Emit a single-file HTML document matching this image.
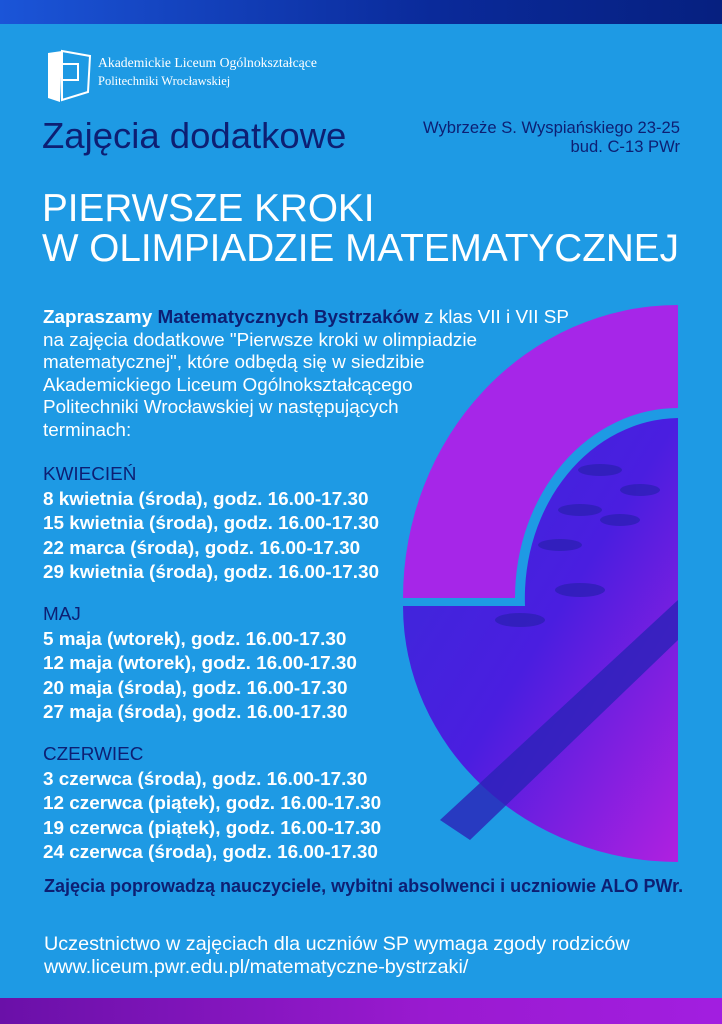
<!DOCTYPE html>
<html><head><meta charset="utf-8"><style>
body{margin:0;width:722px;height:1024px;overflow:hidden;background:#1e9ae4;font-family:"Liberation Sans",Arial,sans-serif;position:relative}
.t{position:absolute;white-space:nowrap;line-height:1}
.w{color:#fff}.d{color:#0d1f73}
.b{font-weight:bold}
</style></head><body>
<div style="position:absolute;left:0;top:0;width:722px;height:24px;background:linear-gradient(90deg,#1b55d8,#0a2a9a 60%,#062080)"></div>
<div style="position:absolute;left:0;top:998px;width:722px;height:26px;background:linear-gradient(90deg,#6a10a8,#9a1ad0 60%,#a21ee0)"></div>
<svg style="position:absolute;left:0;top:0" width="722" height="1024">
<defs><linearGradient id="p" x1="0" y1="0" x2="1" y2="1"><stop offset="0" stop-color="#3a2ad8"/><stop offset="0.5" stop-color="#4a1ee0"/><stop offset="1" stop-color="#b020e0"/></linearGradient></defs>
<path d="M48,53 L62,51 L60,102 L48,98 Z" fill="#fff"/>
<path d="M62,51 L90,56 L88,92 L62,100 Z" fill="none" stroke="#fff" stroke-width="2"/>
<rect x="62" y="64" width="16" height="16" fill="none" stroke="#fff" stroke-width="2"/>
<path d="M678,305 A275,293 0 0 0 403,598 L515,598 A163,190 0 0 1 678,408 Z" fill="#a626e8"/>
<path d="M678,418 A155,180 0 0 0 525,606 L403,606 A275,256 0 0 0 678,862 Z" fill="url(#p)"/>
<g fill="#2a1fb0" opacity="0.7">
<ellipse cx="600" cy="470" rx="22" ry="6"/><ellipse cx="640" cy="490" rx="20" ry="6"/><ellipse cx="580" cy="510" rx="22" ry="6"/><ellipse cx="560" cy="545" rx="22" ry="6"/><ellipse cx="620" cy="520" rx="20" ry="6"/><ellipse cx="580" cy="590" rx="25" ry="7"/><ellipse cx="520" cy="620" rx="25" ry="7"/></g>
<path d="M440,820 L678,600 L678,640 L470,840 Z" fill="#2a22b8" opacity="0.8"/>
</svg>
<div class="t w" style="left:98px;top:56px;font-size:13.7px;font-family:'Liberation Serif',serif">Akademickie Liceum Ogólnokształcące</div>
<div class="t w" style="left:98px;top:75px;font-size:12.5px;font-family:'Liberation Serif',serif">Politechniki Wrocławskiej</div>
<div class="t d" style="left:42px;top:118px;font-size:36.5px">Zajęcia dodatkowe</div>
<div class="t d" style="left:380px;top:118px;width:300px;text-align:right;font-size:16.6px;line-height:19px">Wybrzeże S. Wyspiańskiego 23-25<br>bud. C-13 PWr</div>
<div class="t w" style="left:42px;top:189px;font-size:38.7px;line-height:40px">PIERWSZE KROKI<br>W OLIMPIADZIE MATEMATYCZNEJ</div>
<div class="t w" style="left:43px;top:307px;font-size:18.9px;line-height:22.6px"><b>Zapraszamy <span class="d">Matematycznych Bystrzaków</span></b> z klas VII i VII SP<br>na zajęcia dodatkowe "Pierwsze kroki w olimpiadzie<br>matematycznej", które odbędą się w siedzibie<br>Akademickiego Liceum Ogólnokształcącego<br>Politechniki Wrocławskiej w następujących<br>terminach:</div>
<div class="t w" style="left:43px;top:463px;font-size:18.9px;line-height:24.6px"><span class="d">KWIECIEŃ</span><br><b>8 kwietnia (środa), godz. 16.00-17.30<br>15 kwietnia (środa), godz. 16.00-17.30<br>22 marca (środa), godz. 16.00-17.30<br>29 kwietnia (środa), godz. 16.00-17.30</b></div>
<div class="t w" style="left:43px;top:603px;font-size:18.9px;line-height:24.6px"><span class="d">MAJ</span><br><b>5 maja (wtorek), godz. 16.00-17.30<br>12 maja (wtorek), godz. 16.00-17.30<br>20 maja (środa), godz. 16.00-17.30<br>27 maja (środa), godz. 16.00-17.30</b></div>
<div class="t w" style="left:43px;top:743px;font-size:18.9px;line-height:24.6px"><span class="d">CZERWIEC</span><br><b>3 czerwca (środa), godz. 16.00-17.30<br>12 czerwca (piątek), godz. 16.00-17.30<br>19 czerwca (piątek), godz. 16.00-17.30<br>24 czerwca (środa), godz. 16.00-17.30</b></div>
<div class="t d b" style="left:44px;top:877px;font-size:18px">Zajęcia poprowadzą nauczyciele, wybitni absolwenci i uczniowie ALO PWr.</div>
<div class="t w" style="left:44px;top:933px;font-size:19.8px;line-height:23px">Uczestnictwo w zajęciach dla uczniów SP wymaga zgody rodziców<br>www.liceum.pwr.edu.pl/matematyczne-bystrzaki/</div>
</body></html>
